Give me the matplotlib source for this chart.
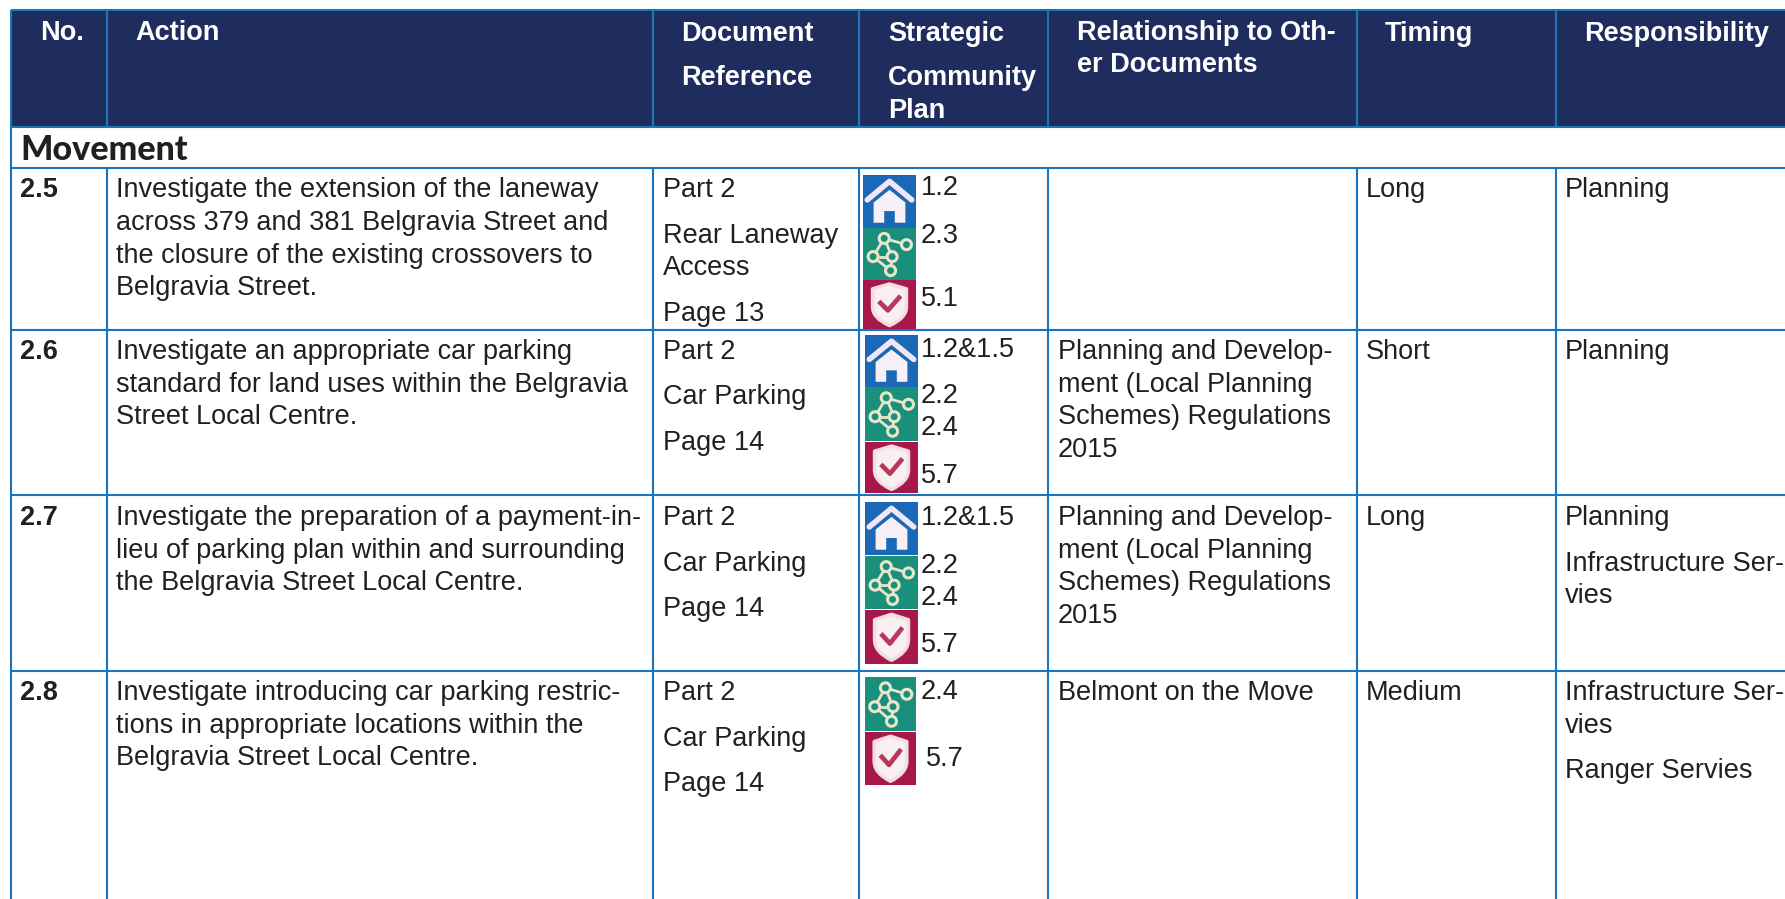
import matplotlib
matplotlib.use("Agg")
import matplotlib.pyplot as plt
from matplotlib.patches import Rectangle, Polygon, Circle, PathPatch
from matplotlib.path import Path

# ---- content -------------------------------------------------------------
headers = [["No."], ["Action"], ["Document", "Reference"], ["Strategic", "Community", "Plan"],
           ["Relationship to Oth-", "er Documents"], ["Timing"], ["Responsibility"]]
section = "Movement"
numbers = ["2.5", "2.6", "2.7", "2.8"]
actions = [
    ["Investigate the extension of the laneway", "across 379 and 381 Belgravia Street and",
     "the closure of the existing crossovers to", "Belgravia Street."],
    ["Investigate an appropriate car parking", "standard for land uses within the Belgravia",
     "Street Local Centre."],
    ["Investigate the preparation of a payment-in-", "lieu of parking plan within and surrounding",
     "the Belgravia Street Local Centre."],
    ["Investigate introducing car parking restric-", "tions in appropriate locations within the",
     "Belgravia Street Local Centre."],
]
documents = [
    ["Part 2", "Rear Laneway", "Access", "Page 13"],
    ["Part 2", "Car Parking", "Page 14"],
    ["Part 2", "Car Parking", "Page 14"],
    ["Part 2", "Car Parking", "Page 14"],
]
plan_labels = [["1.2", "2.3", "5.1"], ["1.2&1.5", "2.2", "2.4", "5.7"],
               ["1.2&1.5", "2.2", "2.4", "5.7"], ["2.4", "5.7"]]
plan_icons = [["home", "net", "shield"], ["home", "net", "shield"],
              ["home", "net", "shield"], ["net", "shield"]]
relations = [
    [],
    ["Planning and Develop-", "ment (Local Planning", "Schemes) Regulations", "2015"],
    ["Planning and Develop-", "ment (Local Planning", "Schemes) Regulations", "2015"],
    ["Belmont on the Move"],
]
timings = ["Long", "Short", "Long", "Medium"]
responsibilities = [
    ["Planning"], ["Planning"],
    ["Planning", "Infrastructure Ser-", "vies"],
    ["Infrastructure Ser-", "vies", "Ranger Servies"],
]

# ---- layout (pixels of the 1785x899 page) --------------------------------
W, H = 1785, 899
col_x = [11, 107, 653, 859, 1048, 1357, 1556]
row_y = [10, 127, 168, 330, 495, 671]
header_x = [40, 135, 681, 888, 1077, 1385, 1584]
header_base = [[40], [40], [41, 85], [41, 85, 118], [40, 72], [41], [41]]
action_base = [[197, 230, 263, 295], [359, 392, 424], [525, 558, 590], [700, 733, 765]]
doc_base = [[197, 243, 275, 321], [359, 404, 450], [525, 571, 616], [700, 746, 791]]
plan_base = [[195, 243, 306], [357, 403, 435, 483], [525, 573, 605, 652], [699, 766]]
plan_lab_x = [[921] * 3, [921] * 4, [921] * 4, [921, 926]]
icon_x = [(863, 916), (865, 918), (865, 918), (865, 916)]
icon_y = [[(175, 228), (228, 280), (280, 329)],
          [(335, 387), (387, 441), (442, 493)],
          [(502, 555), (556, 609), (610, 664)],
          [(677, 731), (732, 785)]]
rel_base = [[], [359, 392, 424, 457], [525, 558, 590, 623], [700]]
resp_base = [[197], [359], [525, 571, 603], [700, 733, 778]]

LINE = "#1C75BC"
NAVY = "#1F2C5E"
INK = "#231F20"
ICON_COL = {"home": "#1B69B6", "net": "#1A8F7C", "shield": "#A8174A"}
FONT = "Liberation Sans"
FS = 19.55
LW = 1.5

fig = plt.figure(figsize=(W / 100, H / 100), dpi=100)
ax = fig.add_axes([0, 0, 1, 1])
ax.set_xlim(0, W)
ax.set_ylim(H, 0)
ax.axis("off")


def txt(x, y, s, **kw):
    kw.setdefault("color", INK)
    kw.setdefault("fontsize", FS)
    kw.setdefault("family", FONT)
    ax.text(x, y, s, va="baseline", ha="left", **kw)


def draw_icon(kind, x0, x1, y0, y1):
    ax.add_patch(Rectangle((x0, y0), x1 - x0, y1 - y0, fc=ICON_COL[kind], ec="none", zorder=2))
    w, h = x1 - x0, y1 - y0
    X = lambda f: x0 + f * w
    Y = lambda f: y0 + f * h
    if kind == "home":
        body = [(.5, .28), (.80, .52), (.80, .90), (.60, .90), (.60, .68),
                (.40, .68), (.40, .90), (.20, .90), (.20, .52)]
        ax.add_patch(Polygon([(X(a), Y(b)) for a, b in body], fc="#F7F1F7", ec="none", zorder=3))
        ax.plot([X(.08), X(.5), X(.92)], [Y(.47), Y(.12), Y(.47)], color="#F2E6F4", lw=4,
                solid_capstyle="round", solid_joinstyle="round", zorder=4)
    elif kind == "net":
        nodes = [(.40, .20), (.82, .32), (.19, .55), (.55, .55), (.52, .82)]
        for a, b in [(0, 1), (0, 2), (0, 3), (3, 4), (2, 4), (2, 3)]:
            ax.plot([X(nodes[a][0]), X(nodes[b][0])], [Y(nodes[a][1]), Y(nodes[b][1])],
                    color="#E8E6C8", lw=2, zorder=3)
        for a, b in nodes:
            ax.add_patch(Circle((X(a), Y(b)), 5, fc=ICON_COL[kind], ec="#E8E6C8", lw=2.2, zorder=4))
    else:
        verts = [(.5, .08), (.82, .18), (.82, .55), (.82, .78), (.5, .93), (.18, .78), (.18, .55), (.18, .18), (.5, .08)]
        codes = [Path.MOVETO, Path.LINETO, Path.LINETO, Path.CURVE3, Path.CURVE3, Path.CURVE3, Path.CURVE3, Path.LINETO, Path.CLOSEPOLY]
        ax.add_patch(PathPatch(Path([(X(a), Y(b)) for a, b in verts], codes), fc="#F8EFF0", ec="#F3DDE3",
                               lw=2.5, joinstyle="round", zorder=3))
        ax.plot([X(.33), X(.47), X(.68)], [Y(.47), Y(.62), Y(.36)], color="#B8375F", lw=3.4, zorder=4)


# header band and grid
ax.add_patch(Rectangle((col_x[0], row_y[0]), W - col_x[0], row_y[1] - row_y[0], fc=NAVY, ec="none", zorder=0))
for y in row_y:
    ax.plot([col_x[0], W], [y, y], color=LINE, lw=LW, zorder=1, solid_capstyle="butt")
ax.plot([col_x[0]] * 2, [row_y[0], H], color=LINE, lw=LW, zorder=1, solid_capstyle="butt")
for x in col_x[1:]:
    ax.plot([x, x], [row_y[0], row_y[1]], color=LINE, lw=LW, zorder=1, solid_capstyle="butt")
    ax.plot([x, x], [row_y[2], H], color=LINE, lw=LW, zorder=1, solid_capstyle="butt")

# header text
for x, lines, bases in zip(header_x, headers, header_base):
    for s, b in zip(lines, bases):
        txt(x, b, s, color="white", fontweight="bold")

txt(20, 160, section, family="Lato", fontweight="black", fontsize=24.5)

# body
for i in range(len(numbers)):
    base0 = action_base[i][0]
    txt(20, base0, numbers[i], fontweight="bold")
    for s, b in zip(actions[i], action_base[i]):
        txt(116, b, s)
    for s, b in zip(documents[i], doc_base[i]):
        txt(663, b, s)
    for s, b, x in zip(plan_labels[i], plan_base[i], plan_lab_x[i]):
        txt(x, b, s)
    for kind, (y0, y1) in zip(plan_icons[i], icon_y[i]):
        draw_icon(kind, icon_x[i][0], icon_x[i][1], y0, y1)
    for s, b in zip(relations[i], rel_base[i]):
        txt(1058, b, s)
    txt(1366, base0, timings[i])
    for s, b in zip(responsibilities[i], resp_base[i]):
        txt(1565, b, s)

fig.savefig("out.png", dpi=100)
